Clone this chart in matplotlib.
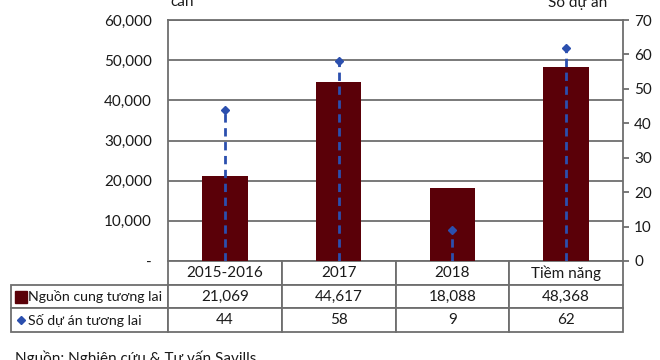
import matplotlib
matplotlib.use("Agg")
import matplotlib.pyplot as plt
from matplotlib.ticker import FuncFormatter, MultipleLocator

categories = ["2015-2016", "2017", "2018", "Tiềm năng"]
supply = [21069, 44617, 18088, 48368]
projects = [44, 58, 9, 62]
supply_label = "Nguồn cung tương lai"
projects_label = "Số dự án tương lai"
left_unit = "căn"
right_unit = "Số dự án"
source = "Nguồn: Nghiên cứu & Tư vấn Savills"

BAR = "#5a0008"
BLUE = "#2b4fae"
GRID = "#6e6e6e"
TXT = "#1a1a1a"
FS = 11
plt.rcParams["font.family"] = ["Lato", "DejaVu Sans"]

W, H = 660, 360
fig = plt.figure(figsize=(W / 100, H / 100), dpi=100)
L, R, T, B = 168, 623, 20, 261
ax = fig.add_axes([L / W, (H - B) / H, (R - L) / W, (B - T) / H])

x = list(range(len(categories)))
ax.bar(x, supply, width=0.4, color=BAR, zorder=2)
ax.set_xlim(-0.5, len(categories) - 0.5)
ax.set_ylim(0, 60000)
ax.yaxis.set_major_locator(MultipleLocator(10000))
ax.yaxis.set_major_formatter(FuncFormatter(lambda v, p: "-" if v == 0 else f"{int(v):,}"))
ax.grid(axis="y", color=GRID, lw=1.3, zorder=1)
ax.set_xticks([])
ax.tick_params(axis="y", length=0, pad=11.5, labelsize=FS, labelcolor=TXT)
for s in ax.spines.values():
    s.set_color(GRID)
    s.set_linewidth(1.3)
ax.spines["bottom"].set_visible(False)

ax2 = ax.twinx()
ax2.set_ylim(0, 70)
ax2.yaxis.set_major_locator(MultipleLocator(10))
ax2.vlines(x, 0, projects, colors=BLUE, linestyles=(0, (3, 2)), lw=2, zorder=3)
ax2.plot(x, projects, ls="none", marker="D", ms=4.5, color=BLUE, zorder=4)
ax2.tick_params(axis="y", length=4, width=1.3, color=GRID, pad=4, labelsize=FS, labelcolor=TXT)
for s in ax2.spines.values():
    s.set_visible(False)

# data table
tl, tr, tb = 11, 623, 332
label_w = L - tl
col_w = (R - L) / len(categories)
cell_text = [[""] + categories,
             [supply_label] + [f"{v:,}" for v in supply],
             [projects_label] + [str(v) for v in projects]]
widths = [label_w] + [col_w] * len(categories)
tot = sum(widths)
tbl = ax.table(cellText=cell_text, colWidths=[w / tot for w in widths], cellLoc="center",
               bbox=[(tl - L) / (R - L), -(tb - B) / (B - T), (tr - tl) / (R - L), (tb - B) / (B - T)])
tbl.auto_set_font_size(False)
tbl.set_fontsize(FS)
for (r, c), cell in tbl.get_celld().items():
    cell.set_edgecolor(GRID)
    cell.set_linewidth(1.3)
    cell.get_text().set_color(TXT)
tbl[0, 0].visible_edges = ""
for r in (1, 2):
    cell = tbl[r, 0]
    cell._loc = "left"
    cell.PAD = 17 / label_w
    cell.get_text().set_ha("left")
    cell.set_fontsize(10.2)

# legend keys in the table
row_h = (tb - B) / 3
for i, (mk, ms) in enumerate([("s", 8), ("D", 4.5)]):
    cy = B + row_h * (i + 1.5)
    ax.plot([(21 - L) / (R - L)], [(B - cy) / (B - T)], marker=mk, ms=ms,
            color=BAR if i == 0 else BLUE, transform=ax.transAxes, clip_on=False)

fig.text(170 / W, 1 - 6 / H, left_unit, fontsize=FS, color=TXT, va="baseline")
fig.text(548 / W, 1 - 7 / H, right_unit, fontsize=FS, color=TXT, va="baseline")
fig.text(15 / W, 1 - 363 / H, source, fontsize=FS, color=TXT, va="baseline")

fig.savefig("out.png", dpi=100)
